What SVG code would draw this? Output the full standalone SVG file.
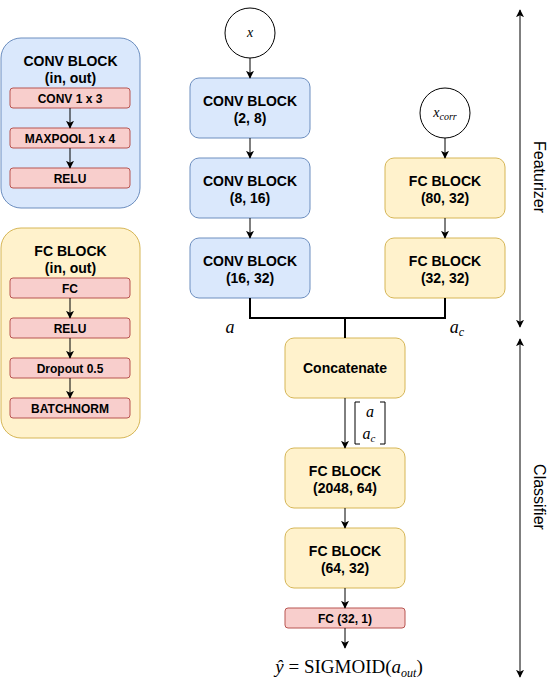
<svg xmlns="http://www.w3.org/2000/svg" width="551" height="689" viewBox="0 0 551 689">
<defs>
<marker id="ah" viewBox="0 0 10 10" refX="9" refY="5" markerWidth="8" markerHeight="8" markerUnits="userSpaceOnUse" orient="auto-start-reverse">
<path d="M0,0 L10,5 L0,10 L2.5,5 Z" fill="#000"/>
</marker>
</defs>
<style>
.blue{fill:#dae8fc;stroke:#6c8ebf;stroke-width:1}
.yel{fill:#fff2cc;stroke:#d6b656;stroke-width:1}
.red{fill:#f8cecc;stroke:#b85450;stroke-width:1}
.circ{fill:#fff;stroke:#000;stroke-width:1}
.t{font-family:"Liberation Sans",Arial,sans-serif;font-weight:bold;font-size:14px;text-anchor:middle;fill:#000}
.s{font-family:"Liberation Sans",Arial,sans-serif;font-weight:bold;font-size:12px;text-anchor:middle;fill:#000}
.r{font-family:"Liberation Sans",Arial,sans-serif;font-size:16px;text-anchor:middle;fill:#000}
.m{font-family:"Liberation Serif","Times New Roman",serif;font-style:italic;fill:#000}
.ln{fill:none;stroke:#000;stroke-width:1}
.ln2{fill:none;stroke:#000;stroke-width:2}
</style>

<g id="legend-conv">
<rect class="blue" x="1" y="38" width="139" height="170" rx="20"/>
<text class="t" x="70.5" y="66">CONV BLOCK</text>
<text class="t" x="70.5" y="83">(in, out)</text>
<rect class="red" x="10" y="88" width="120" height="20" rx="3"/>
<text class="s" x="70" y="102.5">CONV 1 x 3</text>
<rect class="red" x="10" y="128" width="120" height="20" rx="3"/>
<text class="s" x="70" y="142.5">MAXPOOL 1 x 4</text>
<rect class="red" x="10" y="168" width="120" height="20" rx="3"/>
<text class="s" x="70" y="182.5">RELU</text>
<path class="ln" d="M70,108 V128" marker-end="url(#ah)"/>
<path class="ln" d="M70,148 V168" marker-end="url(#ah)"/>
</g>

<g id="legend-fc">
<rect class="yel" x="1" y="228" width="139" height="210" rx="20"/>
<text class="t" x="70.5" y="256">FC BLOCK</text>
<text class="t" x="70.5" y="273">(in, out)</text>
<rect class="red" x="10" y="278" width="120" height="20" rx="3"/>
<text class="s" x="70" y="292.5">FC</text>
<rect class="red" x="10" y="318" width="120" height="20" rx="3"/>
<text class="s" x="70" y="332.5">RELU</text>
<rect class="red" x="10" y="358" width="120" height="20" rx="3"/>
<text class="s" x="70" y="372.5">Dropout 0.5</text>
<rect class="red" x="10" y="398" width="120" height="20" rx="3"/>
<text class="s" x="70" y="412.5">BATCHNORM</text>
<path class="ln" d="M70,298 V318" marker-end="url(#ah)"/>
<path class="ln" d="M70,338 V358" marker-end="url(#ah)"/>
<path class="ln" d="M70,378 V398" marker-end="url(#ah)"/>
</g>

<g id="x">
<circle class="circ" cx="250" cy="33" r="25"/>
<text class="m" x="250" y="37" font-size="14" text-anchor="middle">x</text>
</g>
<g id="conv1">
<rect class="blue" x="190" y="78" width="120" height="60" rx="9"/>
<text class="t" x="250" y="106">CONV BLOCK</text>
<text class="t" x="250" y="123">(2, 8)</text>
</g>
<g id="conv2">
<rect class="blue" x="190" y="158" width="120" height="60" rx="9"/>
<text class="t" x="250" y="186">CONV BLOCK</text>
<text class="t" x="250" y="203">(8, 16)</text>
</g>
<g id="conv3">
<rect class="blue" x="190" y="238" width="120" height="60" rx="9"/>
<text class="t" x="250" y="266">CONV BLOCK</text>
<text class="t" x="250" y="283">(16, 32)</text>
</g>
<g id="xcorr">
<circle class="circ" cx="445" cy="113" r="25"/>
<text class="m" x="445" y="117" font-size="14" text-anchor="middle">x<tspan font-size="10" dy="3">corr</tspan></text>
</g>
<g id="fc1">
<rect class="yel" x="385" y="158" width="120" height="60" rx="9"/>
<text class="t" x="445" y="186">FC BLOCK</text>
<text class="t" x="445" y="203">(80, 32)</text>
</g>
<g id="fc2">
<rect class="yel" x="385" y="238" width="120" height="60" rx="9"/>
<text class="t" x="445" y="266">FC BLOCK</text>
<text class="t" x="445" y="283">(32, 32)</text>
</g>
<g id="concat">
<rect class="yel" x="285" y="338" width="120" height="60" rx="9"/>
<text class="t" x="345" y="373">Concatenate</text>
</g>
<g id="fc3">
<rect class="yel" x="285" y="448" width="120" height="60" rx="9"/>
<text class="t" x="345" y="476">FC BLOCK</text>
<text class="t" x="345" y="493">(2048, 64)</text>
</g>
<g id="fc4">
<rect class="yel" x="285" y="528" width="120" height="60" rx="9"/>
<text class="t" x="345" y="556">FC BLOCK</text>
<text class="t" x="345" y="573">(64, 32)</text>
</g>
<g id="fcout">
<rect class="red" x="285" y="608" width="120" height="20" rx="3"/>
<text class="s" x="345" y="622.5">FC (32, 1)</text>
</g>

<g id="connectors">
<path class="ln" d="M250,58 V78" marker-end="url(#ah)"/>
<path class="ln" d="M250,138 V158" marker-end="url(#ah)"/>
<path class="ln" d="M250,218 V238" marker-end="url(#ah)"/>
<path class="ln" d="M445,138 V158" marker-end="url(#ah)"/>
<path class="ln" d="M445,218 V238" marker-end="url(#ah)"/>
<path class="ln2" d="M250,298 V318 H445 V298"/>
<path class="ln2" d="M345,318 V338"/>
<path class="ln" d="M345,398 V448" marker-end="url(#ah)"/>
<path class="ln" d="M345,508 V528" marker-end="url(#ah)"/>
<path class="ln" d="M345,588 V608" marker-end="url(#ah)"/>
<path class="ln" d="M345,628 V648" marker-end="url(#ah)"/>
<path class="ln" d="M520,10 V327" marker-start="url(#ah)" marker-end="url(#ah)"/>
<path class="ln" d="M520,339 V677" marker-start="url(#ah)" marker-end="url(#ah)"/>
</g>

<g id="labels">
<text class="m" x="230" y="333" font-size="18" text-anchor="middle">a</text>
<text class="m" x="457" y="333" font-size="18" text-anchor="middle">a<tspan font-size="12" dy="3">c</tspan></text>
<path class="ln" d="M360,402 H355 V444 H360 M380,402 H385 V444 H380" stroke-width="1.3"/>
<text class="m" x="370" y="417" font-size="16" text-anchor="middle">a</text>
<text class="m" x="369" y="439" font-size="16" text-anchor="middle">a<tspan font-size="11" dy="3">c</tspan></text>
<text x="349" y="673" font-family="Liberation Serif,'Times New Roman',serif" font-size="19" text-anchor="middle"><tspan font-style="italic">ŷ</tspan> = SIGMOID(<tspan font-style="italic">a</tspan><tspan font-style="italic" font-size="12" dy="4">out</tspan><tspan dy="-4">)</tspan></text>
<text class="r" transform="translate(534,177) rotate(90)">Featurizer</text>
<text class="r" transform="translate(534,497) rotate(90)">Classifier</text>
</g>
</svg>
